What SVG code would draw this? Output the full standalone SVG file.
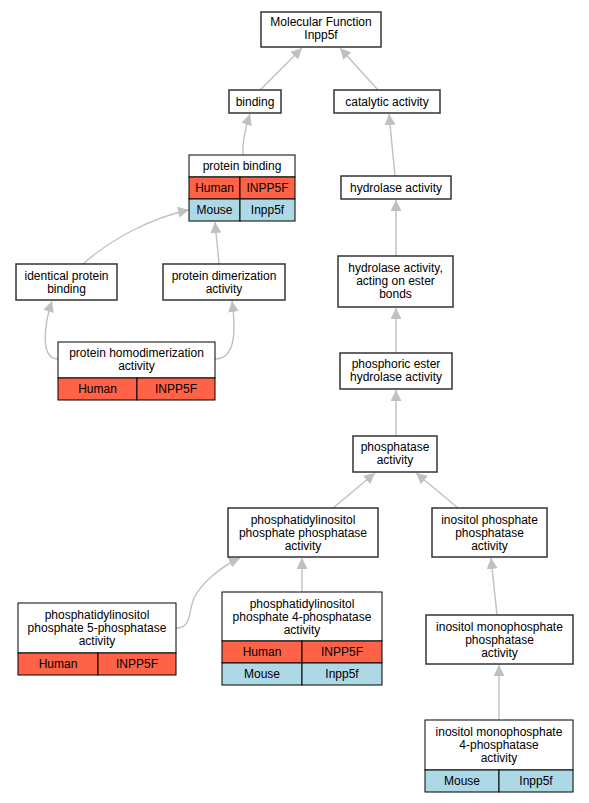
<svg xmlns="http://www.w3.org/2000/svg" width="589" height="803" viewBox="0 0 589 803">
<style>
text{font-family:"Liberation Sans",Arial,sans-serif;font-size:12px;fill:#000;text-anchor:middle}
.n{fill:#fff;stroke:#333;stroke-width:1.5}
.t{fill:#fff;stroke:#000;stroke-width:1}
.h{fill:#ff6347;stroke:#000;stroke-width:1}
.m{fill:#add8e6;stroke:#000;stroke-width:1}
.e{fill:none;stroke:#c0c0c0;stroke-width:1.4;marker-end:url(#ah)}
</style>
<defs>
<marker id="ah" viewBox="0 0 10 10" refX="10" refY="5" markerWidth="11" markerHeight="11" markerUnits="userSpaceOnUse" orient="auto">
<path d="M0,0 L10,5 L0,10 z" fill="#c0c0c0"/>
</marker>
</defs>
<rect width="589" height="803" fill="#fff"/>
<g id="connectors">
<path class="e" d="M260,90 L302,48"/>
<path class="e" d="M378,90 L340,48"/>
<path class="e" d="M243,155 C242,140 246,126 250,114"/>
<path class="e" d="M395,176 L389,114"/>
<path class="e" d="M83,264 C110,240 150,218 189,210"/>
<path class="e" d="M219,264 C218,250 216,236 215,222"/>
<path class="e" d="M396,256 L396,200"/>
<path class="e" d="M58,359 C40,359 44,325 52,301"/>
<path class="e" d="M215,359 C236,359 236,330 232,301"/>
<path class="e" d="M396,353 L396,308"/>
<path class="e" d="M396,436 L396,390"/>
<path class="e" d="M333,508 L375,473"/>
<path class="e" d="M458,508 L416,473"/>
<path class="e" d="M176,628 C192,628 188,612 194,598 C202,582 222,566 240,558"/>
<path class="e" d="M302,592 L302,558"/>
<path class="e" d="M497,615 L491,558"/>
<path class="e" d="M499,720 L499,665"/>
</g>
<g id="n_mf"><rect class="n" x="261" y="12" width="120" height="35"/><text x="321" y="26">Molecular Function</text><text x="321" y="39">Inpp5f</text></g>
<g id="n_binding"><rect class="n" x="229" y="90" width="52" height="23"/><text x="255" y="106">binding</text></g>
<g id="n_catalytic"><rect class="n" x="334" y="90" width="106" height="23"/><text x="387" y="106">catalytic activity</text></g>
<g id="n_protein_binding">
<rect class="t" x="189" y="155" width="106" height="22"/><text x="242" y="170">protein binding</text>
<rect class="h" x="189" y="177" width="51" height="22"/><rect class="h" x="240" y="177" width="55" height="22"/>
<text x="214.5" y="192">Human</text><text x="267.5" y="192">INPP5F</text>
<rect class="m" x="189" y="199" width="51" height="22"/><rect class="m" x="240" y="199" width="55" height="22"/>
<text x="214.5" y="214">Mouse</text><text x="267.5" y="214">Inpp5f</text>
</g>
<g id="n_hydrolase"><rect class="n" x="341" y="176" width="110" height="23"/><text x="396" y="192">hydrolase activity</text></g>
<g id="n_identical"><rect class="n" x="16" y="264" width="101" height="36"/><text x="66.5" y="280">identical protein</text><text x="66.5" y="293">binding</text></g>
<g id="n_dimer"><rect class="n" x="163" y="264" width="122" height="36"/><text x="224" y="280">protein dimerization</text><text x="224" y="293">activity</text></g>
<g id="n_ester"><rect class="n" x="338" y="256" width="115" height="51"/><text x="395.5" y="272">hydrolase activity,</text><text x="395.5" y="285">acting on ester</text><text x="395.5" y="298">bonds</text></g>
<g id="n_homodimer">
<rect class="t" x="58" y="342" width="157" height="36"/><text x="136.5" y="357">protein homodimerization</text><text x="136.5" y="370">activity</text>
<rect class="h" x="58" y="378" width="79" height="22"/><rect class="h" x="137" y="378" width="78" height="22"/>
<text x="97.5" y="393">Human</text><text x="176" y="393">INPP5F</text>
</g>
<g id="n_phosphoric"><rect class="n" x="340" y="353" width="112" height="36"/><text x="396" y="368">phosphoric ester</text><text x="396" y="381">hydrolase activity</text></g>
<g id="n_phosphatase"><rect class="n" x="353" y="436" width="84" height="36"/><text x="395" y="451">phosphatase</text><text x="395" y="464">activity</text></g>
<g id="n_pip"><rect class="n" x="228" y="508" width="150" height="49"/><text x="303" y="524">phosphatidylinositol</text><text x="303" y="537">phosphate phosphatase</text><text x="303" y="550">activity</text></g>
<g id="n_ipp"><rect class="n" x="432" y="508" width="115" height="49"/><text x="489.5" y="524">inositol phosphate</text><text x="489.5" y="537">phosphatase</text><text x="489.5" y="550">activity</text></g>
<g id="n_pi5">
<rect class="t" x="18" y="603" width="158" height="50"/><text x="97" y="619">phosphatidylinositol</text><text x="97" y="632">phosphate 5-phosphatase</text><text x="97" y="645">activity</text>
<rect class="h" x="18" y="653" width="80" height="22"/><rect class="h" x="98" y="653" width="78" height="22"/>
<text x="58" y="668">Human</text><text x="137" y="668">INPP5F</text>
</g>
<g id="n_pi4">
<rect class="t" x="222" y="592" width="160" height="49"/><text x="302" y="608">phosphatidylinositol</text><text x="302" y="621">phosphate 4-phosphatase</text><text x="302" y="634">activity</text>
<rect class="h" x="222" y="641" width="80" height="22"/><rect class="h" x="302" y="641" width="80" height="22"/>
<text x="262" y="656">Human</text><text x="342" y="656">INPP5F</text>
<rect class="m" x="222" y="663" width="80" height="22"/><rect class="m" x="302" y="663" width="80" height="22"/>
<text x="262" y="678">Mouse</text><text x="342" y="678">Inpp5f</text>
</g>
<g id="n_imp"><rect class="n" x="426" y="615" width="147" height="49"/><text x="499.5" y="631">inositol monophosphate</text><text x="499.5" y="644">phosphatase</text><text x="499.5" y="657">activity</text></g>
<g id="n_imp4">
<rect class="t" x="425" y="720" width="148" height="50"/><text x="499" y="736">inositol monophosphate</text><text x="499" y="749">4-phosphatase</text><text x="499" y="762">activity</text>
<rect class="m" x="425" y="770" width="74" height="22"/><rect class="m" x="499" y="770" width="74" height="22"/>
<text x="462" y="785">Mouse</text><text x="536" y="785">Inpp5f</text>
</g>
</svg>
